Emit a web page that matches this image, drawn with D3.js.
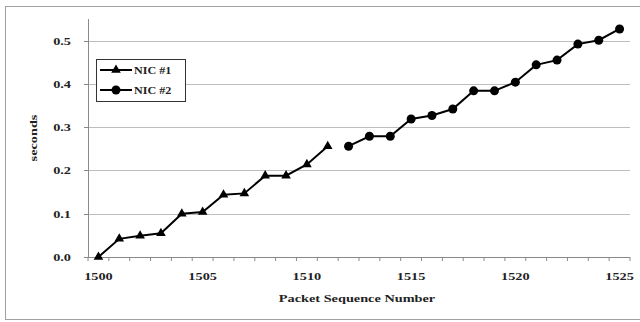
<!DOCTYPE html>
<html><head><meta charset="utf-8">
<script src="https://cdn.jsdelivr.net/npm/d3@7"></script>
<style>body{margin:0;background:#fff}svg{display:block}</style>
</head><body>
<svg id="c" width="640" height="322"></svg>
<script>
const nic1Seq = [1500,1501,1502,1503,1504,1505,1506,1507,1508,1509,1510,1511];
const nic1Val = [0.0,0.042,0.049,0.055,0.100,0.104,0.144,0.147,0.188,0.188,0.214,0.256];
const nic2Seq = [1512,1513,1514,1515,1516,1517,1518,1519,1520,1521,1522,1523,1524,1525];
const nic2Val = [0.256,0.279,0.279,0.319,0.327,0.342,0.384,0.384,0.404,0.444,0.455,0.492,0.501,0.527];
const categories = d3.range(1500,1526);
const xTickLabels = [1500,1505,1510,1515,1520,1525];
const yTicks = [0,0.1,0.2,0.3,0.4,0.5];
const seriesNames = ["NIC #1","NIC #2"];

const svg = d3.select("#c");
const font = "'Liberation Serif','Times New Roman',serif";
const L=88, R=630, T=19, B=257;
const x = d3.scalePoint().domain(categories).range([L,R]).padding(0.5);
const y = d3.scaleLinear().domain([0,0.55]).range([B,T]);
const sx = 1.3;

// chart border
svg.append("rect").attr("x",5.5).attr("y",6.5).attr("width",650).attr("height",313)
  .attr("fill","none").attr("stroke","#a0a0a0").attr("stroke-width",1);

// gridlines
svg.append("g").selectAll("line").data(yTicks.filter(d=>d>0)).join("line")
  .attr("x1",L).attr("x2",R).attr("y1",d=>Math.round(y(d))+0.5).attr("y2",d=>Math.round(y(d))+0.5)
  .attr("stroke","#bdbdbd").attr("stroke-width",1.2);

// y axis
svg.append("line").attr("x1",L+0.5).attr("x2",L+0.5).attr("y1",T).attr("y2",B)
  .attr("stroke","#8a8a8a");
svg.append("g").selectAll("line").data(yTicks).join("line")
  .attr("x1",L-4).attr("x2",L).attr("y1",d=>Math.round(y(d))+0.5).attr("y2",d=>Math.round(y(d))+0.5)
  .attr("stroke","#8a8a8a");
svg.append("g").selectAll("text").data(yTicks).join("text")
  .attr("transform",d=>`translate(71,${y(d)+4}) scale(${sx},1)`)
  .attr("text-anchor","end").attr("font-family",font).attr("font-weight","bold")
  .attr("font-size",11).attr("fill","#222").text(d=>d.toFixed(1));

// x axis
svg.append("line").attr("x1",L).attr("x2",R).attr("y1",B+0.5).attr("y2",B+0.5).attr("stroke","#8a8a8a");
const step = x.step();
const bounds = d3.range(categories.length+1).map(i=>L+i*step);
svg.append("g").selectAll("line").data(bounds).join("line")
  .attr("x1",d=>d).attr("x2",d=>d).attr("y1",B).attr("y2",B+4).attr("stroke","#8a8a8a");
svg.append("g").selectAll("text").data(xTickLabels).join("text")
  .attr("transform",d=>`translate(${x(d)},${B+23}) scale(${sx},1)`)
  .attr("text-anchor","middle").attr("font-family",font).attr("font-weight","bold")
  .attr("font-size",11).attr("fill","#222").text(d=>d);

// axis titles
svg.append("text").attr("transform",`translate(357,${B+45}) scale(${sx},1)`)
  .attr("text-anchor","middle").attr("font-family",font).attr("font-weight","bold")
  .attr("font-size",11).attr("fill","#222").text("Packet Sequence Number");
svg.append("text").attr("transform",`translate(37,138) rotate(-90) scale(${sx},1)`)
  .attr("text-anchor","middle").attr("font-family",font).attr("font-weight","bold")
  .attr("font-size",11).attr("fill","#222").text("seconds");

// series
const line = d3.line().x(d=>x(d[0])).y(d=>y(d[1]));
const s1 = nic1Seq.map((d,i)=>[d,nic1Val[i]]);
const s2 = nic2Seq.map((d,i)=>[d,nic2Val[i]]);
svg.append("path").attr("d",line(s1)).attr("fill","none").attr("stroke","#000").attr("stroke-width",2);
svg.append("path").attr("d",line(s2)).attr("fill","none").attr("stroke","#000").attr("stroke-width",2);
const tri = d3.symbol().type(d3.symbolTriangle).size(40);
svg.append("g").selectAll("path").data(s1).join("path")
  .attr("d",tri).attr("transform",d=>`translate(${x(d[0])},${y(d[1])})`).attr("fill","#000");
svg.append("g").selectAll("circle").data(s2).join("circle")
  .attr("cx",d=>x(d[0])).attr("cy",d=>y(d[1])).attr("r",4.5).attr("fill","#000");

// legend
const lg = svg.append("g");
lg.append("rect").attr("x",96.5).attr("y",59.5).attr("width",89).attr("height",42)
  .attr("fill","#fff").attr("stroke","#333").attr("stroke-width",1);
seriesNames.forEach((n,i)=>{
  const yy = 70 + i*20;
  lg.append("line").attr("x1",100).attr("x2",132).attr("y1",yy).attr("y2",yy).attr("stroke","#000").attr("stroke-width",2);
  if(i===0) lg.append("path").attr("d",tri).attr("transform",`translate(116,${yy})`).attr("fill","#000");
  else lg.append("circle").attr("cx",116).attr("cy",yy).attr("r",4.5).attr("fill","#000");
  lg.append("text").attr("transform",`translate(134,${yy+4}) scale(1.1,1)`).attr("font-family",font)
    .attr("font-weight","bold").attr("font-size",11).attr("fill","#222").text(n);
});
</script>
</body></html>
